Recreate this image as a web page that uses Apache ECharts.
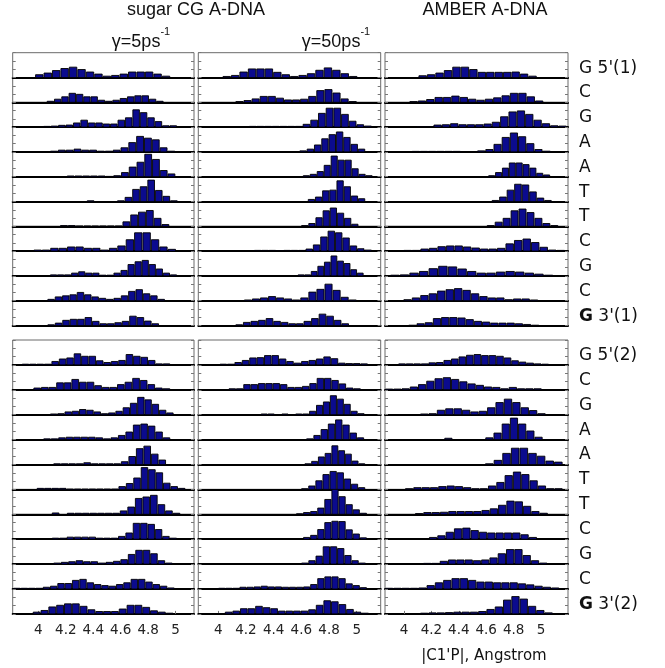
<!DOCTYPE html>
<html>
<head>
<meta charset="utf-8">
<script src="https://cdn.jsdelivr.net/npm/echarts@6/dist/echarts.min.js"></script>
<style>
  html, body { margin: 0; padding: 0; background: #fff; }
  #chart { width: 665px; height: 668px; }
</style>
</head>
<body>
<div id="chart"></div>
<script>
// Histograms of the |C1'P| distance per nucleotide.
// Each row: [first bin edge, last bin edge] and the bar heights between them.

const xTicks = [4, 4.2, 4.4, 4.6, 4.8, 5];

const strandTop = ["G 5'(1)", "C", "G", "A", "A", "T", "T", "C", "G", "C", "{b|G} 3'(1)"];
const strandBottom = ["G 5'(2)", "C", "G", "A", "A", "T", "T", "C", "G", "C", "{b|G} 3'(2)"];

// sugar CG model, gamma = 5 ps^-1
const sugar5Range = [
  [3.976, 4.961], [4.061, 4.912], [4.036, 5.010], [4.085, 4.998], [4.207, 4.998], [4.353, 5.015],
  [4.158, 4.954], [3.964, 5.003], [4.085, 5.010], [4.066, 4.922], [4.066, 4.879],
  [3.879, 4.961], [3.964, 4.961], [4.085, 4.985], [4.036, 4.961], [4.109, 4.930], [3.988, 5.071],
  [4.098, 5.034], [4.098, 5.010], [4.109, 4.978], [3.818, 4.993], [3.959, 4.985]
];
const sugar5Counts = [
  [2.7, 4.3, 6.7, 8.7, 10, 7.7, 5.3, 3.3, 1.3, 2, 3.3, 5.3, 5.3, 5.3, 3.3, 1.3],
  [1, 3, 5.3, 8.7, 7.7, 5.3, 5.3, 2, 1, 2, 3.7, 5.3, 6.3, 6.3, 3, 1],
  [0.7, 1, 1.7, 2, 4, 6.7, 4, 4, 3, 3, 6.7, 9, 16.7, 14, 9, 5.3, 1.3, 1.3],
  [0.7, 1.7, 1.7, 2.7, 1.7, 1.7, 0.7, 0.7, 1.7, 4, 9, 15, 13.3, 11.7, 4, 0.7],
  [0.7, 0.7, 0.7, 0.7, 0.7, 0.3, 1, 4, 9.3, 14, 21.7, 16.7, 6, 2.7],
  [0.7, 0, 0, 0, 0.7, 4, 11.7, 14.3, 20.7, 10.7, 5, 0.7],
  [0.7, 0.7, 0.3, 0.3, 0.3, 0.3, 0.3, 0.3, 4.3, 11, 13.7, 15.3, 7.7, 1.7],
  [1, 1, 2.7, 2.7, 4, 4, 2.7, 2.7, 1, 2.7, 5, 11, 17.7, 17.7, 11, 4, 1.7],
  [1, 1, 1, 2.7, 4, 2.7, 2.7, 0.7, 0.7, 2.7, 5.3, 11, 13.7, 15, 11, 6.7, 2.7, 1],
  [1.3, 3.7, 4.7, 5.7, 8, 5.7, 3.7, 2.3, 1.3, 2.3, 4.7, 9, 10.7, 6.7, 4.7, 1.3],
  [0.7, 2.3, 5, 6, 6, 7.7, 4, 1.7, 1.7, 2.7, 4, 9, 7.7, 4.3, 1.7],
  [0.7, 0.7, 0.7, 0.7, 3.3, 5.7, 6.7, 10.7, 8.3, 8.3, 4, 2.3, 3.3, 4.3, 10, 8.3, 7.3, 4.3, 1, 1],
  [1.7, 2.3, 2.3, 6.7, 6.7, 10, 7.3, 7.3, 4, 2.3, 2.3, 5, 7.3, 11, 9, 5, 1.7, 1],
  [0.7, 1, 2.7, 3.3, 5, 4.3, 2.7, 1, 1.7, 3.3, 6.7, 11, 16.7, 14.3, 10, 4.3, 1.7],
  [0.7, 0.7, 1.7, 2.3, 2.3, 2.3, 2.3, 1.7, 0.7, 1.7, 4, 7.3, 14, 15, 13, 7.3, 1.7],
  [0.7, 0.7, 0.7, 0.7, 1.7, 0.7, 0.7, 0.7, 0.7, 2.7, 7.7, 15.3, 17.7, 10, 4.3],
  [1, 1, 1, 1, 0.3, 0.3, 0.3, 0.3, 0.3, 0.3, 0.3, 2.7, 5.7, 11, 21, 19, 16, 6, 2.7, 1],
  [1.3, 0, 1, 1, 1, 1, 1, 1, 1, 3.3, 7, 15.3, 16.7, 18.3, 9.3, 3.3, 1],
  [1, 1, 2, 2, 2, 2, 1, 1, 1, 2.7, 6, 15.3, 15.3, 14.3, 9.3, 2.7, 1],
  [1, 1.7, 2.3, 3.3, 2.3, 2.3, 1, 1.7, 2.7, 4.3, 9.3, 13.3, 13.3, 10, 3.3, 1],
  [0.7, 0.7, 0.7, 0.7, 1.7, 2.7, 5.3, 5.3, 8.3, 9.3, 6, 4.3, 3.3, 2.7, 4.3, 6, 9.3, 9.3, 6.7, 4.3, 2.7, 1],
  [1.7, 3.3, 6.7, 8.3, 9.7, 9.7, 7.3, 4, 2.3, 2.3, 2.3, 4.7, 8.3, 8.3, 6.3, 3, 1.7, 0.7]
];

// sugar CG model, gamma = 50 ps^-1
const sugar50Range = [
  [4.031, 5.005], [4.124, 5.000], [4.221, 5.109], [4.586, 5.061], [4.611, 5.114], [4.647, 5.061],
  [4.599, 5.012], [4.258, 5.109], [4.574, 5.049], [4.185, 5.000], [4.124, 4.944],
  [4.010, 5.080], [4.075, 5.029], [4.307, 5.056], [4.635, 5.053], [4.623, 5.061], [4.599, 5.061],
  [4.562, 5.073], [4.613, 5.073], [4.599, 5.066], [4.000, 5.073], [3.993, 5.088]
];
const sugar50Counts = [
  [1, 2, 5.3, 8.3, 8.3, 8.3, 5, 2.7, 1, 2, 3.7, 7, 9.3, 7, 3.7, 1],
  [0.7, 1.7, 3.3, 5.7, 5.7, 4, 2.3, 2.3, 3, 5.7, 11.3, 12.3, 9, 3.3, 0.7],
  [0.7, 0.7, 0.7, 0.7, 0.7, 0.7, 0.7, 2.7, 6.7, 13.3, 18.3, 18.3, 12.3, 5.7, 2.3, 1],
  [1, 2.7, 6.7, 12.7, 16.7, 19.3, 14, 7.3, 2.7],
  [1, 2.3, 5, 11, 20, 16, 16, 7.7, 2.3, 1],
  [2, 4.3, 10.3, 11, 20, 14.3, 5.3, 2.7],
  [0.7, 2.7, 8.3, 15, 17.7, 12.7, 7.7, 2],
  [0.7, 0.7, 0.7, 0.3, 0.7, 0.7, 0.7, 2, 6, 13.7, 19.3, 17.7, 12.7, 5, 2.3, 1],
  [1, 1, 4.3, 9.3, 13.3, 19.3, 14.3, 12, 6, 2.7],
  [0.7, 1.7, 2.7, 4, 2.7, 1.7, 0.7, 2.7, 8.3, 11, 16, 10, 3.3, 0.7],
  [0.7, 3, 4, 5, 6.7, 4, 3, 1.7, 1.7, 4, 6.7, 11, 9, 5, 1.7],
  [0.7, 0.7, 2.3, 4.3, 6.7, 7, 9, 9, 5.7, 3.3, 1.7, 3.3, 4.3, 5.7, 7.7, 6, 1.7, 1.3, 1.3, 1],
  [1, 1, 5, 5, 6, 6, 6, 5, 2.3, 2.3, 3.3, 6, 11, 11, 9, 5.7, 1.7, 1],
  [0.7, 0.7, 0, 0.7, 0, 0.7, 0.7, 3.3, 9, 12.3, 18.3, 15, 10, 3.3, 1],
  [0.7, 4, 9.7, 15, 19, 14, 6.3, 1.7],
  [0.7, 3, 7.3, 10.7, 18, 13.3, 10, 3.3, 0.7],
  [0.7, 3.3, 8.3, 14.3, 17.3, 16, 10, 5, 1.7],
  [0.5, 1.7, 2.7, 6, 14.3, 24, 17, 9.3, 4.3, 1],
  [1.7, 3.7, 9.3, 16, 17.3, 17, 9, 5, 1.3],
  [1, 3.3, 7.7, 16.7, 16.7, 15, 8.3, 3.3, 1],
  [0.7, 0.7, 0.7, 1.7, 1.7, 2, 2.7, 2, 2, 1.7, 1.7, 1.7, 2, 4.3, 10, 11.7, 11.7, 10, 5, 3.3, 1.3],
  [0.3, 1.7, 2.7, 5, 5, 7.3, 6, 5, 2.7, 2.7, 2.7, 2.7, 4, 8.3, 12.7, 11.7, 9, 4.3, 1.7, 0.7]
];

// AMBER all-atom A-DNA
const amberRange = [
  [4.105, 4.969], [4.039, 5.017], [4.093, 5.188], [4.056, 5.071], [4.615, 5.066], [4.640, 5.078],
  [4.604, 5.126], [3.995, 5.175], [3.898, 5.090], [3.995, 4.980], [4.031, 4.988],
  [3.958, 5.058], [3.861, 5.005], [4.117, 5.034], [4.234, 5.012], [4.591, 5.158], [4.007, 5.158],
  [4.080, 5.050], [4.182, 4.971], [4.139, 5.047], [3.861, 5.134], [4.117, 5.086]
];
const amberCounts = [
  [1.7, 2.7, 4.3, 6.7, 10, 10, 7.7, 5, 5, 5, 5, 5.3, 3.3, 1.3],
  [0.7, 1.3, 2.7, 4.7, 4.7, 6, 4.7, 3, 2, 3, 4.3, 6.3, 8.7, 8.7, 5.3, 1.3],
  [0.5, 0.5, 2, 2.3, 3.3, 2.3, 2.3, 2.3, 3, 4.7, 10, 14.7, 15.7, 12.3, 6.7, 3.3, 1.3, 1],
  [0.5, 0.5, 0.5, 0.5, 0.5, 0.5, 0, 0, 1, 2.3, 7.3, 14, 18.3, 14.7, 8, 2.3, 0.7],
  [1, 4, 8.3, 13.3, 13.3, 11.7, 8.3, 3.3, 1.7],
  [1, 4.3, 11, 16.7, 16, 9.3, 3.3, 1],
  [0.7, 4, 7.7, 15, 16.7, 13.3, 7.7, 2.7, 0.7],
  [0.7, 0.7, 2, 2.7, 4.3, 5, 5, 4, 3, 2, 2, 2.7, 7, 10.3, 11.7, 8.3, 3.7, 1, 0.7],
  [0.7, 1, 2.7, 4.3, 7, 9.3, 8.7, 6.7, 4.3, 2.7, 2.7, 3.7, 4.3, 3.7, 2.7, 1.7, 0.7],
  [1, 2.7, 5, 6.7, 9.3, 10.7, 11.7, 10, 6.7, 4, 2.7, 2.7, 1, 1.7, 1.7, 0.7],
  [0.3, 1.7, 2.7, 6.7, 7.7, 7.7, 7.3, 5.7, 4, 3.3, 2.3, 2.3, 2.3, 1.7, 1, 0.3],
  [1, 1, 1, 1, 2, 2.3, 4.3, 5.7, 7.7, 9.3, 10, 9, 9, 8.3, 6.7, 4, 2.7, 1.7, 1, 0.7],
  [0.7, 0.7, 1, 2.7, 5, 8.3, 10.7, 11.7, 10, 7.7, 5.7, 4.3, 2.7, 2.3, 1, 2.3, 1, 1, 1],
  [0.7, 1, 4.3, 5.7, 5.7, 4.3, 2.7, 3.3, 6.7, 11.7, 15, 11.7, 6.7, 4, 1],
  [0, 1.3, 0, 0, 0, 0, 1.7, 6.3, 15, 20.7, 15, 8.3, 2.3],
  [0.7, 4, 10.7, 15.7, 15.7, 10.7, 8, 3.3, 2.3],
  [0.7, 1.7, 1.7, 1.7, 2.7, 3.3, 2.7, 1.7, 0.7, 0.7, 3.3, 6.7, 13.3, 16.7, 14.3, 8.3, 3.3, 0.7, 0.7],
  [0.7, 1.7, 1.7, 2, 2.7, 2.7, 2.7, 2.7, 3.7, 5.3, 8.7, 12.7, 12, 7.7, 2.7, 1],
  [1.7, 3.3, 6.7, 10, 10.7, 8.3, 6.7, 6, 6, 6, 6, 4.3, 1.7],
  [0.7, 0.7, 2.7, 4, 4, 4, 3.3, 4, 6, 10, 14, 14, 8.3, 3.3, 1],
  [0.7, 0.7, 0.7, 0.7, 1, 3.3, 6, 8.3, 10, 10, 8.3, 6.7, 6.7, 6, 6, 6, 5, 4, 2.7, 1.7, 1],
  [0.7, 1, 1, 1.3, 1.7, 1.7, 1.7, 2.3, 4.3, 6.7, 13.3, 16.7, 14.3, 7.3, 3.3, 1]
];

// ---- layout ----
const panelColumns = [
  { ranges: sugar5Range, counts: sugar5Counts, xMin: 3.813, xMax: 5.134, left: 12.7, width: 181.3 },
  { ranges: sugar50Range, counts: sugar50Counts, xMin: 3.856, xMax: 5.173, left: 198.3, width: 182.4 },
  { ranges: amberRange, counts: amberCounts, xMin: 3.861, xMax: 5.197, left: 385, width: 183 }
];
const nRows = 22;
function rowTop(r) { return r < 11 ? 52.7 + r * 24.8 : 340 + (r - 11) * 24.9; }
function rowHeight(r) { return r < 11 ? 24.8 : 24.9; }

const BAR_FILL = '#0b0b8e';
const Y_MAX = 24;

function binsOf(range, counts) {
  const w = (range[1] - range[0]) / counts.length;
  return counts.map((h, i) => [range[0] + (i + 0.5) * w, h, w]);
}

function renderBar(params, api) {
  const h = api.value(1);
  if (!(h > 0)) return null;
  const x = api.value(0), w = api.value(2);
  const p0 = api.coord([x - w * 0.44, h]);
  const p1 = api.coord([x + w * 0.44, 0]);
  return {
    type: 'rect',
    shape: { x: p0[0], y: p0[1], width: p1[0] - p0[0], height: p1[1] - p0[1] },
    style: { fill: BAR_FILL, stroke: '#000', lineWidth: 0.9 }
  };
}

const grid = [], xAxis = [], yAxis = [], series = [];
panelColumns.forEach((col, c) => {
  for (let r = 0; r < nRows; r++) {
    const p = grid.length;
    const isLast = r === nRows - 1;
    grid.push({
      left: col.left, top: rowTop(r), width: col.width, height: rowHeight(r),
      show: true, borderColor: '#6b6b6b', borderWidth: 1
    });
    xAxis.push({
      type: 'value', gridIndex: p, min: col.xMin, max: col.xMax,
      axisLine: { show: true, onZero: false, lineStyle: { color: '#000', width: 2 } },
      axisTick: { show: isLast, inside: true, length: 3, customValues: xTicks, lineStyle: { color: '#777' } },
      axisLabel: {
        show: isLast, customValues: xTicks, margin: 10,
        fontFamily: 'DejaVu Sans', fontSize: 13.5, color: '#222'
      },
      splitLine: { show: false }
    });
    ['left', 'right'].forEach(pos => {
      yAxis.push({
        type: 'value', gridIndex: p, position: pos, min: 0, max: Y_MAX, interval: 8,
        axisLine: { show: false },
        axisTick: { show: true, inside: true, length: 3, lineStyle: { color: '#777' } },
        axisLabel: { show: false },
        splitLine: { show: false }
      });
    });
    series.push({
      type: 'custom', xAxisIndex: p, yAxisIndex: 2 * p, clip: true,
      renderItem: renderBar,
      data: binsOf(col.ranges[r], col.counts[r]),
      silent: true
    });
  }
});

// ---- text ----
const sansHeading = 'Liberation Sans, Arial, sans-serif';
const gammaRich = {
  m: { fontFamily: sansHeading, fontSize: 18, fontWeight: 'normal', color: '#111', lineHeight: 25, verticalAlign: 'bottom' },
  s: { fontFamily: sansHeading, fontSize: 11, fontWeight: 'normal', color: '#111', lineHeight: 25, verticalAlign: 'top' }
};
const title = [
  { text: 'sugar CG A-DNA', left: 196, top: 1, textAlign: 'center', padding: 0,
    textStyle: { fontFamily: sansHeading, fontSize: 18, fontWeight: 'normal', color: '#111' } },
  { text: 'AMBER A-DNA', left: 485, top: 1, textAlign: 'center', padding: 0,
    textStyle: { fontFamily: sansHeading, fontSize: 18, fontWeight: 'normal', color: '#111' } },
  { text: '{m|γ=5ps}{s|-1}', left: 141, top: 26, textAlign: 'center', padding: 0,
    textStyle: { fontFamily: sansHeading, fontSize: 18, fontWeight: 'normal', color: '#111', rich: gammaRich } },
  { text: '{m|γ=50ps}{s|-1}', left: 336, top: 26, textAlign: 'center', padding: 0,
    textStyle: { fontFamily: sansHeading, fontSize: 18, fontWeight: 'normal', color: '#111', rich: gammaRich } },
  { text: "|C1'P|, Angstrom", left: 484, top: 649, textAlign: 'center', padding: 0,
    textStyle: { fontFamily: 'DejaVu Sans', fontSize: 15, fontWeight: 'normal', color: '#111' } }
];
strandTop.concat(strandBottom).forEach((label, r) => {
  title.push({
    text: label, left: 579, top: rowTop(r) + rowHeight(r) / 2 + 3 - 10, padding: 0,
    textStyle: {
      fontFamily: 'DejaVu Sans', fontSize: 17, fontWeight: 'normal', color: '#111', lineHeight: 20,
      rich: { b: { fontFamily: 'DejaVu Sans', fontSize: 17, fontWeight: 'bold', color: '#111', lineHeight: 20 } }
    }
  });
});

const chart = echarts.init(document.getElementById('chart'), null, { renderer: 'canvas' });
chart.setOption({
  backgroundColor: '#fff',
  animation: false,
  title, grid, xAxis, yAxis, series
});
</script>
</body>
</html>
